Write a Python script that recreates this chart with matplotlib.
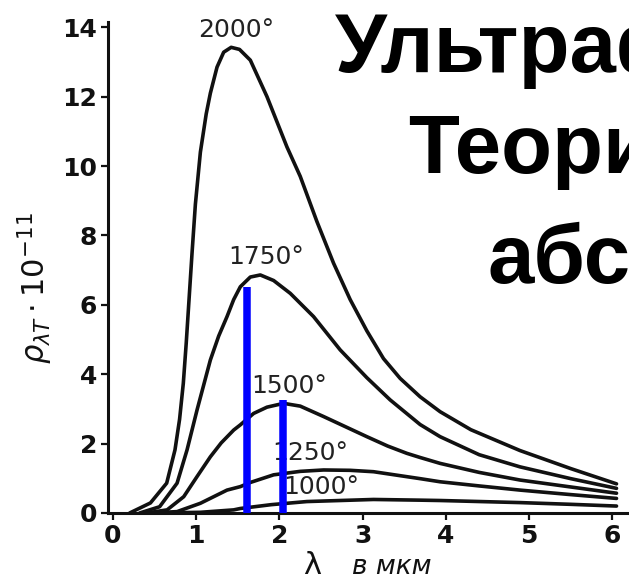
import matplotlib
matplotlib.use("Agg")
import matplotlib.pyplot as plt

# ---- data ----
x_2000 = [0.20, 0.45, 0.645, 0.745, 0.80, 0.845, 0.88, 0.915, 0.95, 0.99, 1.05, 1.12, 1.17, 1.25, 1.33,
          1.42, 1.52, 1.65, 1.85, 2.09, 2.25, 2.45, 2.65, 2.85, 3.05, 3.25, 3.45, 3.69, 3.93, 4.30,
          4.89, 5.50, 6.05]
y_2000 = [0.00, 0.29, 0.86, 1.82, 2.70, 3.74, 4.90, 6.20, 7.50, 8.90, 10.40, 11.50, 12.10, 12.85, 13.28,
          13.42, 13.36, 13.05, 12.00, 10.55, 9.70, 8.40, 7.20, 6.15, 5.25, 4.45, 3.88, 3.35, 2.92, 2.40,
          1.80, 1.28, 0.84]

x_1750 = [0.32, 0.56, 0.77, 0.89, 1.01, 1.17, 1.27, 1.37, 1.45, 1.53, 1.65, 1.77, 1.93, 2.13, 2.41,
          2.73, 3.05, 3.33, 3.69, 3.93, 4.40, 4.89, 5.50, 6.05]
y_1750 = [0.00, 0.18, 0.86, 1.82, 2.97, 4.41, 5.10, 5.66, 6.15, 6.52, 6.80, 6.86, 6.70, 6.33, 5.66,
          4.70, 3.90, 3.26, 2.55, 2.20, 1.68, 1.33, 0.99, 0.71]

x_1500 = [0.40, 0.65, 0.85, 1.01, 1.17, 1.30, 1.45, 1.53, 1.69, 1.85, 2.05, 2.25, 2.53, 3.05, 3.30,
          3.53, 3.69, 3.93, 4.40, 4.89, 5.50, 6.05]
y_1500 = [0.00, 0.09, 0.47, 1.05, 1.62, 2.02, 2.39, 2.54, 2.87, 3.05, 3.16, 3.08, 2.78, 2.20, 1.93,
          1.72, 1.60, 1.43, 1.17, 0.95, 0.75, 0.57]

x_1250 = [0.45, 0.77, 1.05, 1.37, 1.53, 1.65, 1.93, 2.25, 2.53, 2.85, 3.13, 3.69, 3.93, 4.40, 4.89, 5.50, 6.05]
y_1250 = [0.00, 0.04, 0.28, 0.66, 0.76, 0.88, 1.10, 1.20, 1.24, 1.23, 1.19, 0.99, 0.90, 0.78, 0.66, 0.53, 0.42]

x_1000 = [0.55, 1.05, 1.45, 1.53, 1.90, 2.33, 3.13, 3.69, 3.93, 4.89, 5.50, 6.05]
y_1000 = [0.00, 0.02, 0.09, 0.13, 0.24, 0.33, 0.39, 0.37, 0.36, 0.30, 0.25, 0.20]

curve_labels = ["2000°", "1750°", "1500°", "1250°", "1000°"]
label_x = [1.48, 1.84, 2.12, 2.37, 2.50]
label_y = [13.92, 7.38, 3.66, 1.73, 0.75]

marker_x = [1.61, 2.04]
marker_top = [6.52, 3.26]

x_ticks = [0, 1, 2, 3, 4, 5, 6]
y_ticks = [0, 2, 4, 6, 8, 10, 12, 14]

title_lines = ["Ультрафиолетовая", "Теория", "абсолютно"]

# ---- figure ----
W, H = 629, 580
fig = plt.figure(figsize=(W / 100, H / 100), dpi=100)
ax = fig.add_axes([108 / W, (H - 513) / H, 1 - 108 / W, (513 - 22) / H])
ax.set_xlim(-0.06, 6.2)
ax.set_ylim(0, 14.15)

ink = "#111111"
for xs, ys in [(x_2000, y_2000), (x_1750, y_1750), (x_1500, y_1500), (x_1250, y_1250), (x_1000, y_1000)]:
    ax.plot(xs, ys, color=ink, lw=2.6, solid_capstyle="round", solid_joinstyle="round", zorder=3)

for t, lx, ly in zip(curve_labels, label_x, label_y):
    ax.text(lx, ly, t, ha="center", va="center", fontsize=18, color="#222222",
            family="DejaVu Sans", zorder=4)

for mx, mt in zip(marker_x, marker_top):
    ax.plot([mx, mx], [0, mt], color="#0000ff", lw=5.4, solid_capstyle="butt", zorder=6)

for s in ["top", "right"]:
    ax.spines[s].set_visible(False)
for s in ["left", "bottom"]:
    ax.spines[s].set_linewidth(2.2)
    ax.spines[s].set_color(ink)

ax.set_xticks(x_ticks)
ax.set_yticks(y_ticks)
ax.set_xticklabels([str(v) for v in x_ticks])
ax.set_yticklabels([str(v) for v in y_ticks])
ax.tick_params(axis="both", direction="out", length=5, width=1.6, color=ink,
               labelsize=18, labelcolor=ink, pad=3)
for lab in ax.get_xticklabels() + ax.get_yticklabels():
    lab.set_fontweight("bold")

# axis titles
fig.text(35 / W, 1 - 288 / H, r"$\rho_{\lambda T}\cdot 10^{-11}$", rotation=90,
         ha="center", va="center", fontsize=22, color=ink)
fig.text(312 / W, 1 - 566 / H, "λ", ha="center", va="center", fontsize=22, color=ink)
fig.text(392 / W, 1 - 567 / H, "в мкм", ha="center", va="center", fontsize=19,
         style="italic", color=ink)

# big slide title (cut off at the right edge, as in the reference)
title_x = [335, 408, 488]
title_base = [71.7, 173.3, 283]
for t, tx, tb in zip(title_lines, title_x, title_base):
    fig.text(tx / W, 1 - tb / H, t, ha="left", va="baseline", fontsize=60,
             fontweight="bold", family="Liberation Sans", color="black", zorder=10)

fig.savefig("out.png", dpi=100)
